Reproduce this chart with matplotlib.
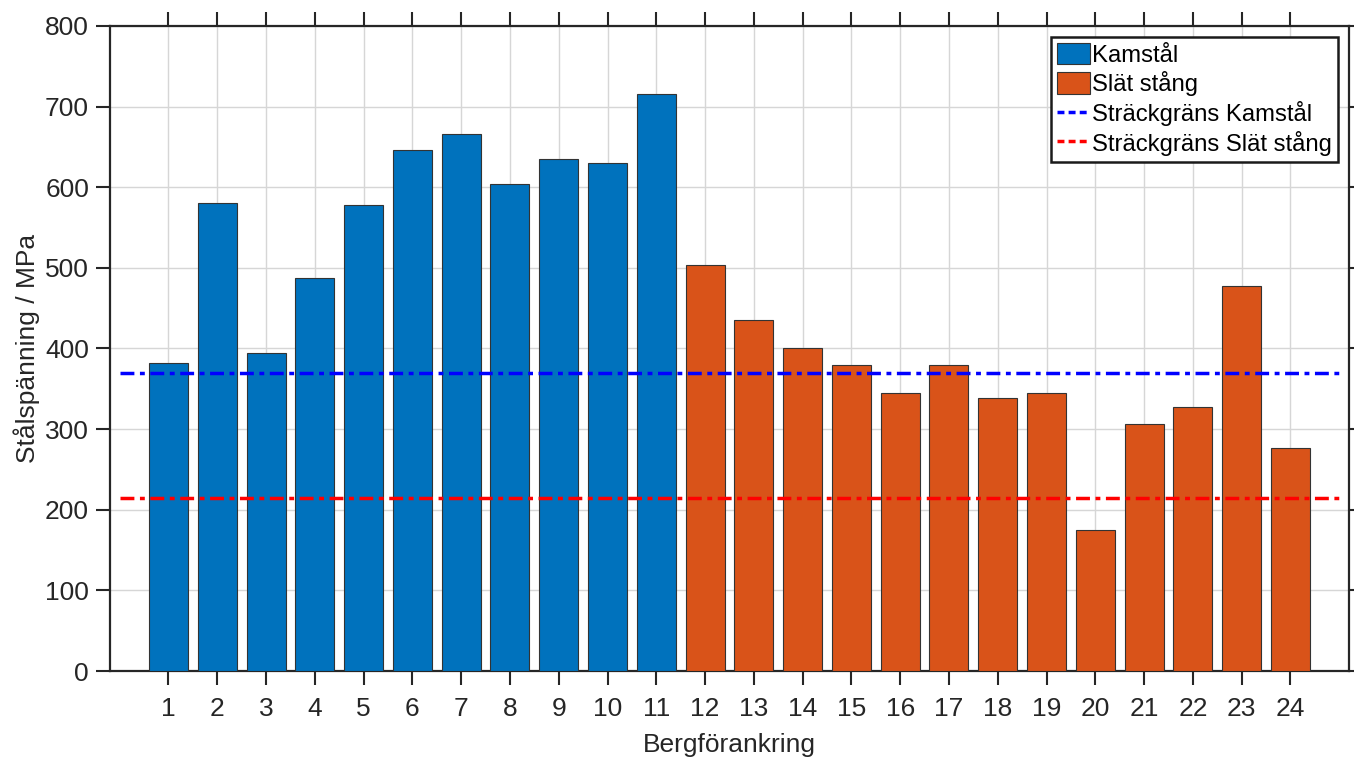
import numpy as np
import matplotlib
matplotlib.use('Agg')
import matplotlib.pyplot as plt
from matplotlib.lines import Line2D

plt.rcParams['font.family'] = ['Liberation Sans', 'DejaVu Sans']

# data
anchors = list(range(1, 25))
kamstal_ids = list(range(1, 12))
kamstal_vals = [382, 580, 394, 487, 578, 646, 666, 604, 635, 630, 716]
slat_ids = list(range(12, 25))
slat_vals = [504, 435, 400, 379, 345, 379, 339, 345, 175, 306, 328, 478, 276]
yield_kamstal = 370
yield_slat = 215

blue = '#0072BD'
orange = '#D95319'
spine_col = '#262626'
fs = 19

fig = plt.figure(figsize=(13.54, 7.6), dpi=100)
ax = fig.add_axes([0.0812, 0.1171, 0.9151, 0.8487])

b1 = ax.bar(kamstal_ids, kamstal_vals, width=0.8, color=blue, edgecolor='#333333',
            linewidth=0.8, label='Kamstål', zorder=3)
b2 = ax.bar(slat_ids, slat_vals, width=0.8, color=orange, edgecolor='#333333',
            linewidth=0.8, label='Slät stång', zorder=3)

dashdot = (0, (4, 1.6, 1.4, 1.6))
ax.plot([0, 25], [yield_kamstal, yield_kamstal], color='#0000FF', lw=2.5,
        linestyle=dashdot, zorder=4)
ax.plot([0, 25], [yield_slat, yield_slat], color='#FF0000', lw=2.5,
        linestyle=dashdot, zorder=4)

ax.set_xlim(-0.2, 25.2)
ax.set_ylim(0, 800)
ax.set_xticks(anchors)
ax.set_yticks(np.arange(0, 801, 100))
ax.grid(True, color='#D6D6D6', linewidth=1.0, zorder=0)
ax.set_axisbelow(True)

ax.tick_params(axis='both', labelsize=fs, colors=spine_col, direction='out',
               length=10, width=1.5, top=True, right=True)
ax.tick_params(axis='x', pad=9)
ax.tick_params(axis='y', pad=5)
for s in ax.spines.values():
    s.set_color(spine_col)
    s.set_linewidth(1.6)

ax.set_ylabel('Stålspänning / MPa', fontsize=fs, color=spine_col, labelpad=4)
ax.set_xlabel('Bergförankring', fontsize=fs, color=spine_col, labelpad=8)

# legend: bars first, then the yield lines drawn dashed
h_blue = Line2D([], [], color='#0000FF', lw=2.5, linestyle=(0, (2, 1.2)))
h_red = Line2D([], [], color='#FF0000', lw=2.5, linestyle=(0, (2, 1.2)))
leg = ax.legend([b1, b2, h_blue, h_red],
                ['Kamstål', 'Slät stång', 'Sträckgräns Kamstål', 'Sträckgräns Slät stång'],
                loc='upper right', fontsize=17.2, frameon=True, fancybox=False,
                handlelength=1.4, handleheight=1.0, handletextpad=0.1,
                labelspacing=0.2, borderpad=0.25, borderaxespad=0.45)
leg.get_frame().set_edgecolor('#1a1a1a')
leg.get_frame().set_linewidth(1.8)
leg.get_frame().set_alpha(1)

fig.savefig('out.png', dpi=100)
